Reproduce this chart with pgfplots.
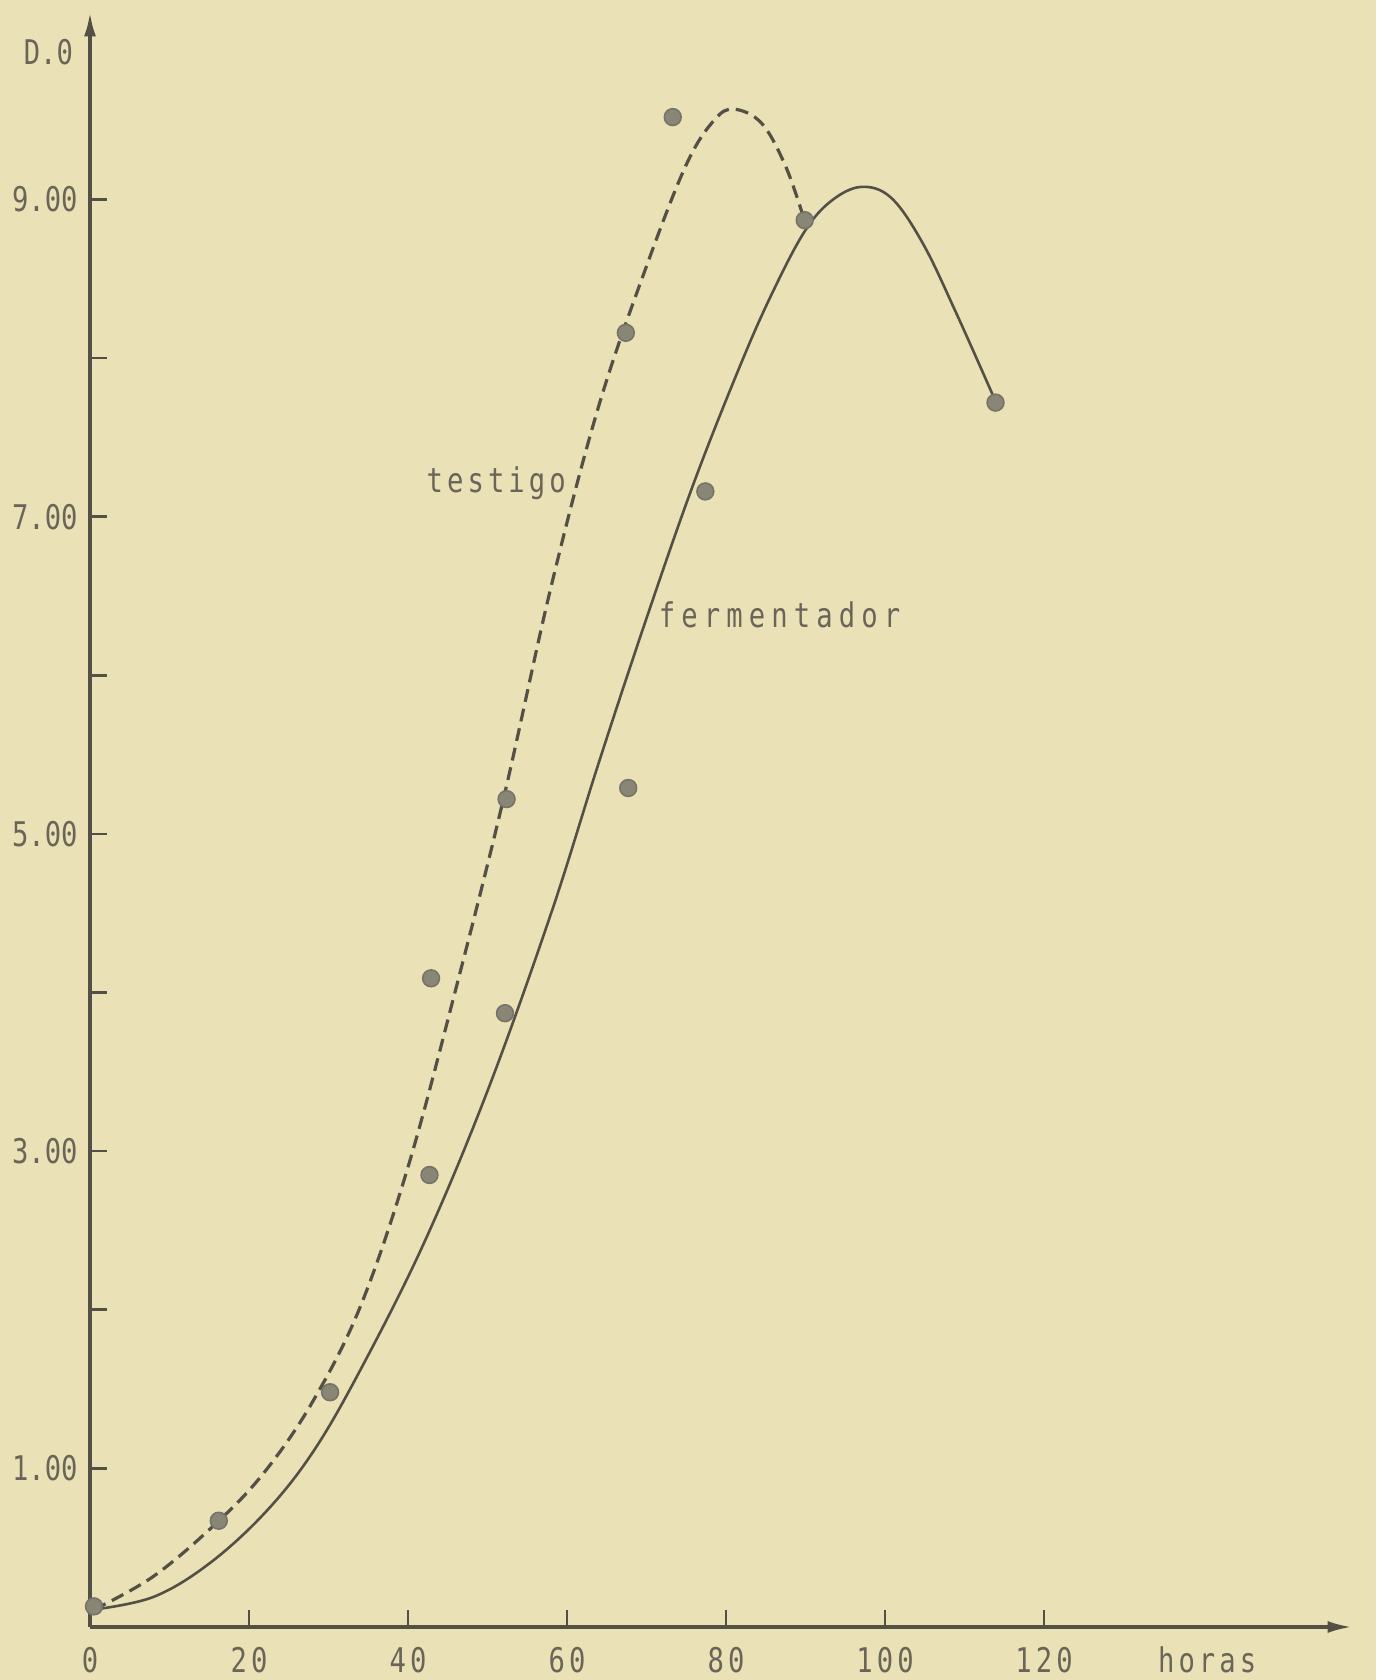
\documentclass[border=0pt]{standalone}
\usepackage{fontspec}
\usepackage{pgfplots}
\usepackage{pgfplotstable}
\pgfplotsset{compat=1.18}
\usetikzlibrary{arrows.meta}

% stencil-like lettering
\newfontfamily\lettering[FakeStretch=0.8,LetterSpace=12]{DejaVu Sans Mono}
\newfontfamily\numbering[FakeStretch=0.8]{DejaVu Sans Mono}
\newcommand\letterfont{\lettering\fontsize{17}{20}\selectfont}
\newcommand\numberfont{\numbering\fontsize{17}{20}\selectfont}

\definecolor{paper}{RGB}{234,226,182}
\definecolor{ink}{RGB}{84,80,70}
\definecolor{lettercol}{RGB}{106,101,88}
\definecolor{dotfill}{RGB}{138,134,118}

% measured points
\pgfplotstableread{
x y
0.5 0.13
16.2 0.67
30.2 1.48
42.9 4.09
52.4 5.22
67.4 8.16
73.3 9.52
89.9 8.87
}\testigopts
\pgfplotstableread{
x y
42.7 2.85
52.2 3.87
67.7 5.29
77.4 7.16
113.9 7.72
}\fermpts

% hand-drawn fitted curves
\pgfplotstableread{
x y
0.5 0.11
8 0.32
16 0.66
22 0.98
28 1.42
34 2.02
40 2.90
46 4.02
52 5.22
58 6.56
64 7.70
70 8.58
75 9.22
78.5 9.50
81.0 9.57
84.5 9.48
87.5 9.21
89.8 8.88
}\testigocurve
\pgfplotstableread{
x y
0.5 0.11
8 0.19
15 0.40
22 0.72
28 1.10
34 1.62
42 2.42
50 3.38
58 4.50
64 5.45
70 6.36
76 7.22
82 7.98
86 8.43
89.9 8.80
93.2 8.99
97 9.08
100.8 9.01
104.8 8.72
109 8.28
113.8 7.74
}\fermcurve

\begin{document}
\begin{tikzpicture}
\useasboundingbox[fill=paper] (0,0) rectangle (688pt,840pt);
\begin{axis}[
  at={(45pt,26.5pt)}, anchor=origin,
  x=3.975pt, y=79.3pt,
  xmin=0, xmax=158.7, ymin=0, ymax=10.18,
  axis lines=left,
  axis line style={ink, line width=1.6pt, -{Latex[length=12pt,width=6pt]}},
  clip=false,
  tick align=inside,
  major tick length=8.5pt,
  tick style={ink, line width=1.3pt},
  xtick={0,20,...,120},
  xticklabels={0,20,40,60,80,100,120},
  ytick={1,2,...,9},
  yticklabels={1.00,,3.00,,5.00,,7.00,,9.00},
  xticklabel style={font=\letterfont, text=lettercol, anchor=base, inner sep=0pt, yshift=-23pt},
  yticklabel style={font=\numberfont, text=lettercol, anchor=east, inner sep=0pt, xshift=-6pt},
]
\addplot[ink, line width=1.6pt, dash pattern=on 6.5pt off 3.5pt, smooth, tension=0.6]
  table[x=x,y=y] {\testigocurve};
\addplot[ink, line width=1.3pt, smooth, tension=0.6]
  table[x=x,y=y] {\fermcurve};
\addplot[only marks, mark=*, mark size=4.2pt,
  mark options={fill=dotfill, draw=ink!80, line width=0.8pt}]
  table[x=x,y=y] {\testigopts};
\addplot[only marks, mark=*, mark size=4.2pt,
  mark options={fill=dotfill, draw=ink!80, line width=0.8pt}]
  table[x=x,y=y] {\fermpts};

\node[anchor=base west, font=\letterfont, text=lettercol, inner sep=0pt]
  at (axis cs:42.3,7.15) {testigo};
\node[anchor=base west, font=\letterfont\addfontfeatures{LetterSpace=18}, text=lettercol, inner sep=0pt]
  at (axis cs:71.5,6.30) {fermentador};
\node[anchor=base west, font=\letterfont, text=lettercol, inner sep=0pt, yshift=-23pt]
  at (axis cs:134.3,0) {horas};
\node[anchor=east, font=\numberfont, text=lettercol, inner sep=0pt]
  at (axis cs:-2.1,9.93) {D.0};
\end{axis}
\end{tikzpicture}
\end{document}
